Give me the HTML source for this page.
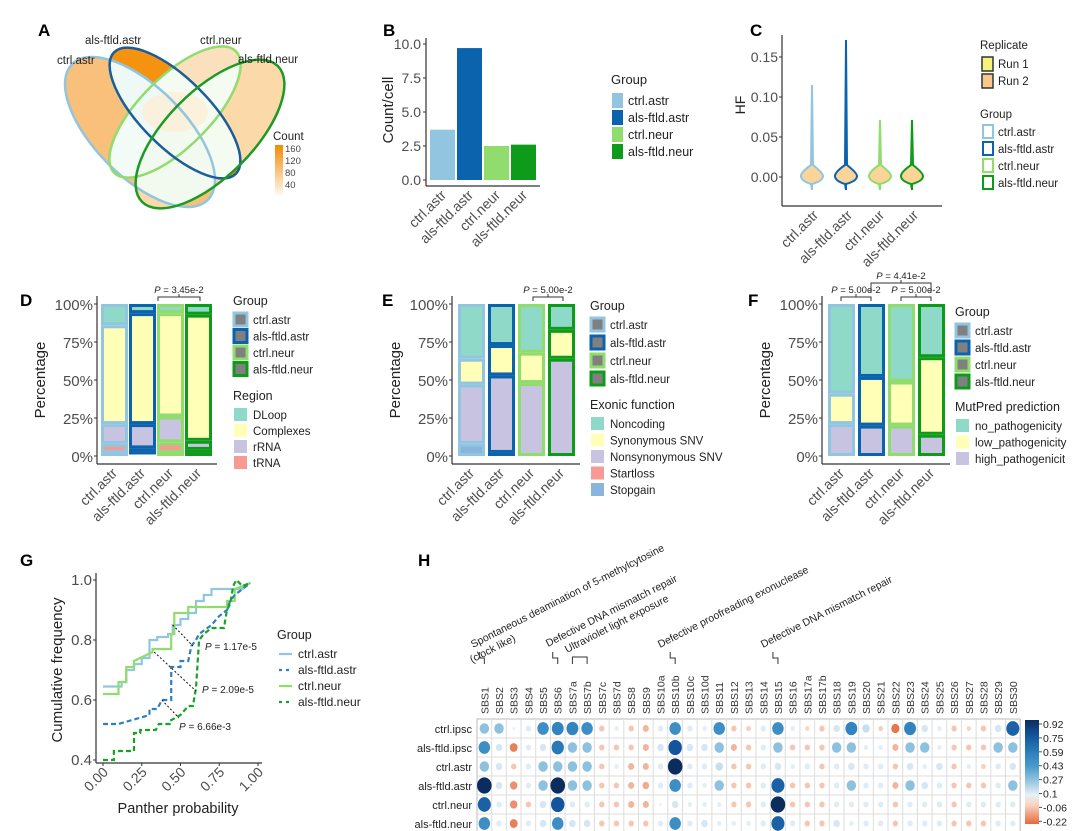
<!DOCTYPE html>
<html><head><meta charset="utf-8"><style>
html,body{margin:0;padding:0;background:#fff}
svg{display:block;font-family:"Liberation Sans",sans-serif}
.t{fill:#4d4d4d;font-size:14px}
.l{fill:#222;font-size:11.5px}
.pl{font-family:"Liberation Sans",sans-serif;font-weight:bold;font-size:17px;fill:#000}
</style></head><body>
<svg id="s" width="1080" height="831" viewBox="0 0 1080 831" xmlns="http://www.w3.org/2000/svg">
<defs>
<linearGradient id="cg" x1="0" y1="0" x2="0" y2="1"><stop offset="0" stop-color="#f48a00"/><stop offset="1" stop-color="#fff8ef"/></linearGradient>
<linearGradient id="hb" x1="0" y1="0" x2="0" y2="1">
<stop offset="0" stop-color="#0b2d5e"/><stop offset="0.15" stop-color="#12559c"/><stop offset="0.3" stop-color="#2a7bba"/><stop offset="0.45" stop-color="#4a9ccc"/><stop offset="0.6" stop-color="#9ecae1"/><stop offset="0.72" stop-color="#e8f0f6"/><stop offset="0.82" stop-color="#f9d3bd"/><stop offset="1" stop-color="#e5693c"/></linearGradient>
<clipPath id="cA"><ellipse cx="140" cy="132" rx="96" ry="45" transform="rotate(45 140 132)"/></clipPath>
<clipPath id="cB"><ellipse cx="175" cy="113" rx="86" ry="34" transform="rotate(45 175 113)"/></clipPath>
<clipPath id="cC"><ellipse cx="175" cy="112" rx="86" ry="35" transform="rotate(-45 175 112)"/></clipPath>
</defs>
<text class="pl" x="38" y="36">A</text>
<ellipse cx="210" cy="134" rx="96" ry="43" transform="rotate(-45 210 134)" fill="#fbd9a8"/>
<ellipse cx="140" cy="132" rx="96" ry="45" transform="rotate(45 140 132)" fill="#f8c07a"/>
<ellipse cx="175" cy="112" rx="86" ry="35" transform="rotate(-45 175 112)" fill="#fbe0bd"/>
<ellipse cx="175" cy="113" rx="86" ry="34" transform="rotate(45 175 113)" fill="#f5920f"/>
<g clip-path="url(#cC)"><ellipse cx="175" cy="113" rx="86" ry="34" transform="rotate(45 175 113)" fill="#f4fbf2"/><ellipse cx="140" cy="132" rx="96" ry="45" transform="rotate(45 140 132)" fill="#f2fbf6"/><ellipse cx="210" cy="134" rx="96" ry="43" transform="rotate(-45 210 134)" fill="#f4fbf0"/></g>
<g clip-path="url(#cB)"><ellipse cx="140" cy="132" rx="96" ry="45" transform="rotate(45 140 132)" fill="#eef9f6"/><ellipse cx="210" cy="134" rx="96" ry="43" transform="rotate(-45 210 134)" fill="#f4fbf0"/></g>
<g clip-path="url(#cA)"><ellipse cx="210" cy="134" rx="96" ry="43" transform="rotate(-45 210 134)" fill="#f2faf0"/></g>
<ellipse cx="175" cy="112" rx="33" ry="20" fill="#fdecd4" opacity="0.7"/>
<ellipse cx="140" cy="132" rx="96" ry="45" transform="rotate(45 140 132)" fill="none" stroke="#91c5e0" stroke-width="2.5"/>
<ellipse cx="175" cy="112" rx="86" ry="35" transform="rotate(-45 175 112)" fill="none" stroke="#90dc6c" stroke-width="2.5"/>
<ellipse cx="175" cy="113" rx="86" ry="34" transform="rotate(45 175 113)" fill="none" stroke="#1a5d9a" stroke-width="2.5"/>
<ellipse cx="210" cy="134" rx="96" ry="43" transform="rotate(-45 210 134)" fill="none" stroke="#1c9a25" stroke-width="2.5"/>
<text class="l" x="57" y="64">ctrl.astr</text><text class="l" x="85" y="44">als-ftld.astr</text>
<text class="l" x="200" y="44">ctrl.neur</text><text class="l" x="238" y="63">als-ftld.neur</text>
<text class="l" x="273" y="140">Count</text>
<rect x="275" y="145" width="8" height="50" fill="url(#cg)"/>
<g style="font-size:9.5px;fill:#444"><text x="285" y="152">160</text><text x="285" y="164">120</text><text x="285" y="176">80</text><text x="285" y="188">40</text></g>
<g id="dyn"></g>
</svg>
<script>
var S=document.getElementById('dyn');
var h='';
var C=['#91c5e0','#0b62ad','#90dc6c','#0f9b1a'],G=['ctrl.astr','als-ftld.astr','ctrl.neur','als-ftld.neur'];
function T(x,y,s,cls,extra){return '<text x="'+x+'" y="'+y+'" class="'+(cls||'t')+'" '+(extra||'')+'>'+s+'</text>';}
function xl(xs,y){var r='';for(var i=0;i<4;i++)r+='<text class="t" text-anchor="end" transform="translate('+(xs[i]+5)+','+y+') rotate(-45)">'+G[i]+'</text>';return r;}
// B
h+=T(383,36,'B','pl');
h+='<line x1="426" y1="38" x2="426" y2="186" stroke="#333" stroke-width="1.2"/><line x1="426" y1="186" x2="540" y2="186" stroke="#333" stroke-width="1.2"/>';
var bt=[['10.0',44],['7.5',78],['5.0',112],['2.5',146],['0.0',180]];
bt.forEach(function(b){h+=T(421,b[1]+5,b[0],'t','text-anchor="end"')+'<line x1="423" x2="426" y1="'+b[1]+'" y2="'+b[1]+'" stroke="#333"/>';});
var bh=[3.7,9.7,2.5,2.6];
for(var i=0;i<4;i++){var bx0=430+i*27,btop=180-bh[i]*13.6;h+='<rect x="'+bx0+'" y="'+btop+'" width="25" height="'+(180-btop)+'" fill="'+C[i]+'"/>';}
h+='<text class="t" style="font-size:15px;fill:#222" transform="translate(393,110) rotate(-90)" text-anchor="middle">Count/cell</text>';
h+=xl([442,469,496,523],196);
h+=T(611,84,'Group','l','style="font-size:13px"');
for(var i=0;i<4;i++){h+='<rect x="612" y="'+(93+i*17)+'" width="11" height="15" fill="'+C[i]+'"/>'+T(628,105+i*17,G[i],'l','style="font-size:12.5px"');}
// C
h+=T(750,36,'C','pl');
h+='<line x1="782" y1="35" x2="782" y2="206" stroke="#333" stroke-width="1.2"/><line x1="782" y1="206" x2="942" y2="206" stroke="#333" stroke-width="1.2"/>';
[['0.15',57],['0.10',97],['0.05',137],['0.00',177]].forEach(function(b){h+=T(778,b[1]+5,b[0],'t','text-anchor="end"')+'<line x1="779" x2="782" y1="'+b[1]+'" y2="'+b[1]+'" stroke="#333"/>';});
h+='<text class="t" style="font-size:14px;fill:#222" transform="translate(745,105) rotate(-90)" text-anchor="middle">HF</text>';
var vx=[812,846,880,912],vt=[85,40,120,120];
for(var i=0;i<4;i++){var x=vx[i];h+='<path d="M'+x+','+vt[i]+' L'+(x+1)+',165 Q'+(x+11)+',173 '+(x+11)+',176 Q'+(x+11)+',181 '+x+',184 L'+x+',190 L'+(x-1)+',184 Q'+(x-11)+',181 '+(x-11)+',176 Q'+(x-11)+',172 '+(x-1)+',165 Z" fill="#fbd49a" stroke="'+C[i]+'" stroke-width="2"/>';}
h+=xl([814,848,880,914],216);
h+=T(980,49,'Replicate','l');
h+='<rect x="982" y="57" width="11" height="14" fill="#f7f27c" stroke="#333" stroke-width="1.5"/><rect x="982" y="74" width="11" height="14" fill="#f9c88d" stroke="#333" stroke-width="1.5"/>';
h+=T(998,68,'Run 1','l')+T(998,85,'Run 2','l')+T(980,118,'Group','l');
for(var i=0;i<4;i++){h+='<rect x="983" y="'+(125+i*17)+'" width="10" height="13" fill="#fff" stroke="'+C[i]+'" stroke-width="2"/>'+T(998,136+i*17,G[i],'l');}
function stack(ax,bx,data,cols){var r='';var y0=456,sc=1.52;
 r+='<line x1="'+ax+'" y1="296" x2="'+ax+'" y2="464" stroke="#333" stroke-width="1.2"/><line x1="'+ax+'" y1="464" x2="'+(bx[3]+32)+'" y2="464" stroke="#333" stroke-width="1.2"/>';
 [['100%',100],['75%',75],['50%',50],['25%',25],['0%',0]].forEach(function(b){var y=y0-b[1]*sc;r+=T(ax-4,y+6,b[0],'t','style="font-size:15px" text-anchor="end"')+'<line x1="'+(ax-3)+'" x2="'+ax+'" y1="'+y+'" y2="'+y+'" stroke="#333"/>';});
 r+='<text class="t" style="font-size:15px;fill:#222" transform="translate('+(ax-52)+',380) rotate(-90)" text-anchor="middle">Percentage</text>';
 for(var i=0;i<4;i++){var segs=data[i];for(var j=0;j<segs.length;j++){var s=segs[j];var ya=y0-s[1]*sc,yb=y0-s[0]*sc;r+='<rect x="'+(bx[i]+1.5)+'" y="'+(ya+1.5)+'" width="24" height="'+Math.max(0,yb-ya-3)+'" fill="'+cols[s[2]]+'" stroke="'+C[i]+'" stroke-width="3"/>';}}
 r+=xl(bx.map(function(v){return v+12;}),474);return r;}
var rc={D:'#8fd9c9',C:'#ffffb8',R:'#c8c3e0',T:'#f79a94',S:'#89b4dc'};
h+=T(20,306,'D','pl');
h+=stack(97,[101,129,157,185],[[[0,2,'R'],[2,8,'T'],[8,21,'R'],[21,86,'C'],[86,100,'D']],[[0,1,'S'],[1,5,'T'],[5,21,'R'],[21,94,'C'],[94,100,'D']],[[0,2,'R'],[2,9,'T'],[9,26,'R'],[26,94,'C'],[94,100,'D']],[[0,2,'R'],[2,4,'T'],[4,10,'R'],[10,93,'C'],[93,100,'D']]],rc);
h+='<path d="M158,301 v-4 h42 v4 M179,297 v-3" fill="none" stroke="#333"/>'+T(179,293,'<tspan font-style="italic">P</tspan> = 3.45e-2','l','style="font-size:9.5px" text-anchor="middle"');
function leg(x,y,title,items,fills,strokes,step){var r=T(x,y,title,'l','style="font-size:12.5px"');for(var i=0;i<items.length;i++){var yy=y+8+i*step;r+='<rect x="'+(x+1)+'" y="'+yy+'" width="13" height="13" fill="'+fills[i]+'" stroke="'+(strokes?strokes[i]:'none')+'" stroke-width="3"/>'+T(x+20,yy+11,items[i],'l');}return r;}
var gray=['#808080','#808080','#808080','#808080'];
h+=leg(233,305,'Group',G,gray,C,16.5)+leg(233,400,'Region',['DLoop','Complexes','rRNA','tRNA'],[rc.D,rc.C,rc.R,rc.T],null,16);
h+=T(382,306,'E','pl');
h+=stack(452,[458,488,518,548],[[[0,8,'S'],[8,47,'R'],[47,64,'C'],[64,100,'D']],[[0,2,'S'],[2,53,'R'],[53,73,'C'],[73,100,'D']],[[0,48,'R'],[48,68,'C'],[68,100,'D']],[[0,64,'R'],[64,83,'C'],[83,100,'D']]],rc);
h+='<path d="M533,301 v-4 h30 v4 M548,297 v-3" fill="none" stroke="#333"/>'+T(548,293,'<tspan font-style="italic">P</tspan> = 5.00e-2','l','style="font-size:9.5px" text-anchor="middle"');
h+=leg(590,310,'Group',G,gray,C,18)+leg(590,409,'Exonic function',['Noncoding','Synonymous SNV','Nonsynonymous SNV','Startloss','Stopgain'],[rc.D,rc.C,rc.R,rc.T,rc.S],null,16.5);
h+=T(748,306,'F','pl');
h+=stack(822,[828,858,888,918],[[[0,21,'R'],[21,41,'C'],[41,100,'D']],[[0,20,'R'],[20,52,'C'],[52,100,'D']],[[0,20,'R'],[20,49,'C'],[49,100,'D']],[[0,14,'R'],[14,65,'C'],[65,100,'D']]],rc);
h+='<path d="M841,301 v-4 h30 v4 M856,297 v-3 M901,301 v-4 h30 v4 M916,297 v-3 M871,293 v-10 h60 v10 M901,283 v-3" fill="none" stroke="#333"/>';
h+=T(856,293,'<tspan font-style="italic">P</tspan> = 5.00e-2','l','style="font-size:9.5px" text-anchor="middle"')+T(916,293,'<tspan font-style="italic">P</tspan> = 5.00e-2','l','style="font-size:9.5px" text-anchor="middle"')+T(901,279,'<tspan font-style="italic">P</tspan> = 4.41e-2','l','style="font-size:9.5px" text-anchor="middle"');
h+=leg(955,316,'Group',G,gray,C,17)+leg(955,411,'MutPred prediction',['no_pathogenicity','low_pathogenicity','high_pathogenicit'],[rc.D,rc.C,rc.R],null,16.5);
// G
h+=T(20,566,'G','pl');
h+='<line x1="96" y1="573" x2="96" y2="763" stroke="#333" stroke-width="1.2"/><line x1="96" y1="763" x2="262" y2="763" stroke="#333" stroke-width="1.2"/>';
function gx(v){return 103+v*155;}function gy(v){return 760-(v-0.4)*300;}
[['1.0',1],['0.8',.8],['0.6',.6],['0.4',.4]].forEach(function(b){var y=gy(b[1]);h+=T(92,y+5,b[0],'t','style="font-size:15px" text-anchor="end"')+'<line x1="93" x2="96" y1="'+y+'" y2="'+y+'" stroke="#333"/>';});
['0.00','0.25','0.50','0.75','1.00'].forEach(function(s,i){var x=gx(i*.25);h+='<line x1="'+x+'" x2="'+x+'" y1="763" y2="766" stroke="#333"/><text class="t" text-anchor="end" transform="translate('+(x+6)+',773) rotate(-45)">'+s+'</text>';});
h+='<text class="t" style="font-size:15px;fill:#222" transform="translate(62,670) rotate(-90)" text-anchor="middle">Cumulative frequency</text>';
h+=T(178,813,'Panther probability','t','style="font-size:14.5px;fill:#222" text-anchor="middle"');
function pl(pts,col,dash){return '<polyline fill="none" stroke="'+col+'" stroke-width="2.2" '+(dash?'stroke-dasharray="5,3"':'')+' points="'+pts.map(function(p){return gx(p[0])+','+gy(p[1]);}).join(' ')+'"/>';}
h+=pl([[0,.645],[.12,.645],[.12,.66],[.15,.66],[.15,.70],[.2,.70],[.2,.72],[.25,.72],[.25,.74],[.3,.74],[.3,.80],[.35,.80],[.35,.81],[.42,.81],[.42,.82],[.45,.82],[.45,.85],[.5,.85],[.5,.87],[.55,.87],[.55,.89],[.6,.89],[.6,.93],[.65,.93],[.65,.95],[.7,.95],[.7,.97],[.9,.97],[.9,.98],[.95,.99]],C[0]);
h+=pl([[0,.62],[.1,.62],[.1,.66],[.15,.66],[.15,.71],[.2,.71],[.2,.73],[.32,.76],[.32,.77],[.44,.77],[.44,.82],[.46,.82],[.46,.89],[.55,.89],[.55,.91],[.8,.91],[.8,.93],[.85,.93],[.85,.97],[.95,.99]],C[2]);
h+=pl([[0,.52],[.1,.52],[.2,.535],[.3,.55],[.3,.57],[.35,.57],[.38,.60],[.44,.60],[.44,.71],[.5,.71],[.5,.73],[.55,.73],[.57,.78],[.6,.80],[.62,.82],[.7,.85],[.75,.88],[.8,.90],[.82,.93],[.85,.95],[.9,.97],[.95,.99]],'#2f7fc0',1);
h+=pl([[0,.40],[.07,.40],[.07,.43],[.2,.43],[.2,.49],[.24,.49],[.24,.50],[.34,.50],[.36,.52],[.43,.52],[.43,.53],[.5,.55],[.55,.58],[.58,.58],[.6,.64],[.62,.80],[.65,.82],[.7,.84],[.78,.84],[.8,.90],[.82,.92],[.84,.98],[.86,1.0],[.9,.98],[.95,.99]],'#17a22a',1);
[[.45,.85,.58,.78],[.33,.76,.6,.63],[.38,.60,.49,.54]].forEach(function(d){h+='<line x1="'+gx(d[0])+'" y1="'+gy(d[1])+'" x2="'+gx(d[2])+'" y2="'+gy(d[3])+'" stroke="#111" stroke-dasharray="2,2"/>';});
h+=T(205,650,'<tspan font-style="italic">P</tspan> = 1.17e-5','l','style="font-size:10px"')+T(202,693,'<tspan font-style="italic">P</tspan> = 2.09e-5','l','style="font-size:10px"')+T(179,730,'<tspan font-style="italic">P</tspan> = 6.66e-3','l','style="font-size:10px"');
h+=T(277,639,'Group','l','style="font-size:12.5px"');
var gs=[[C[0],0],['#2f7fc0',1],[C[2],0],['#17a22a',1]];
for(var i=0;i<4;i++){var y=654+i*16;h+='<line x1="279" x2="292" y1="'+y+'" y2="'+y+'" stroke="'+gs[i][0]+'" stroke-width="2.2" '+(gs[i][1]?'stroke-dasharray="3,4"':'')+'/>'+T(298,y+4,G[i],'l','style="font-size:12px"');}
// H
h+=T(418,566,'H','pl');
var cols=['SBS1','SBS2','SBS3','SBS4','SBS5','SBS6','SBS7a','SBS7b','SBS7c','SBS7d','SBS8','SBS9','SBS10a','SBS10b','SBS10c','SBS10d','SBS11','SBS12','SBS13','SBS14','SBS15','SBS16','SBS17a','SBS17b','SBS18','SBS19','SBS20','SBS21','SBS22','SBS23','SBS24','SBS25','SBS26','SBS27','SBS28','SBS29','SBS30'];
var rows=['ctrl.ipsc','als-ftld.ipsc','ctrl.astr','als-ftld.astr','ctrl.neur','als-ftld.neur'];
var V=[
[.3,.3,0,.05,.5,.55,.55,.5,-.05,.02,-.05,-.08,.05,.5,.05,.02,.5,-.05,-.03,.05,.5,.02,-.02,-.05,.1,.55,.15,-.03,-.2,.55,.1,.02,-.05,-.02,-.05,.1,.7],
[.5,.1,-.18,.05,.1,.6,.3,.3,-.05,-.05,-.05,-.08,.1,.75,.1,.1,.3,-.08,-.05,.05,.3,-.05,-.05,-.05,.3,.3,.02,.02,-.08,.3,.3,.02,-.05,-.05,-.05,.3,.3],
[.3,.1,-.05,.05,.3,.3,.3,.3,-.05,.02,-.08,-.08,.05,.92,.05,.05,.15,-.05,-.05,.05,.1,.02,.05,-.05,.05,.1,.05,.05,-.05,.1,.02,.1,-.05,.02,-.03,.05,.1],
[.92,.1,-.15,.05,.3,.92,.3,.3,-.05,-.05,-.08,-.1,.05,.5,.05,.02,.3,-.05,-.05,.05,.7,-.05,-.05,-.05,.05,.3,.05,.05,-.08,.3,.1,.05,-.05,-.05,-.05,.05,.3],
[.7,.05,-.15,-.05,.1,.75,.05,.05,-.05,-.05,-.08,-.08,0,.1,.02,.02,.02,-.05,-.05,.05,.92,-.05,-.05,-.05,.05,.05,.05,.05,-.05,.05,.05,.05,-.05,.05,.05,.05,.05],
[.5,.05,-.18,.05,.1,.5,.1,.1,-.05,-.05,-.05,-.05,.05,.5,.05,.1,.02,.02,.02,.05,.7,.05,-.05,-.05,.1,.02,.05,.05,-.05,.05,.05,.05,-.05,-.05,-.05,.05,.05]];
var x0=477,cw=14.68,y0=719,rh=19;
function col(v){if(v<0){var t=Math.min(1,-v/.22);return 'rgb('+Math.round(250-(250-229)*t)+','+Math.round(225-(225-105)*t)+','+Math.round(210-(210-60)*t)+')';}
var st=[[0,[232,240,246]],[.1,[214,231,243]],[.27,[158,202,225]],[.43,[74,156,204]],[.59,[42,123,186]],[.75,[18,85,156]],[.92,[11,45,94]]];
for(var i=1;i<st.length;i++){if(v<=st[i][0]){var a=st[i-1],b=st[i],t=(v-a[0])/(b[0]-a[0]);return 'rgb('+[0,1,2].map(function(k){return Math.round(a[1][k]+(b[1][k]-a[1][k])*t);}).join(',')+')';}}return 'rgb(11,45,94)';}
h+='<rect x="'+x0+'" y="'+y0+'" width="'+(cw*37)+'" height="'+(rh*6)+'" fill="#fff" stroke="#bbb"/>';
for(var j=1;j<37;j++)h+='<line x1="'+(x0+j*cw)+'" x2="'+(x0+j*cw)+'" y1="'+y0+'" y2="'+(y0+rh*6)+'" stroke="#ddd"/>';
for(var i=1;i<6;i++)h+='<line x1="'+x0+'" x2="'+(x0+cw*37)+'" y1="'+(y0+i*rh)+'" y2="'+(y0+i*rh)+'" stroke="#ddd"/>';
for(var i=0;i<6;i++){h+=T(472,y0+i*rh+14,rows[i],'l','style="font-size:11px" text-anchor="end"');
 for(var j=0;j<37;j++){var v=V[i][j],r=1.3+6*Math.sqrt(Math.abs(v)/.92);h+='<ellipse cx="'+(x0+j*cw+cw/2)+'" cy="'+(y0+i*rh+rh/2)+'" rx="'+r+'" ry="'+(r*1.12)+'" fill="'+col(v)+'"/>';}}
for(var j=0;j<37;j++)h+='<text class="l" style="font-size:10.5px;fill:#333" transform="translate('+(x0+j*cw+cw/2+4)+',714) rotate(-90)">'+cols[j]+'</text>';
h+='<rect x="1025" y="720" width="14" height="104" fill="url(#hb)"/>';
['0.92','0.75','0.59','0.43','0.27','0.1','-0.06','-0.22'].forEach(function(s,i){var y=724+i*13.9;h+='<line x1="1039" x2="1042" y1="'+y+'" y2="'+y+'" stroke="#555"/>'+T(1043,y+4,s,'l','style="font-size:10.5px"');});
function ann(x,y,s){return '<text class="l" style="font-size:10.5px" transform="translate('+x+','+y+') rotate(-27)">'+s+'</text>';}
h+=ann(473,648,'Spontaneous deamination of 5-methylcytosine')+ann(472,663,'(clock like)')+ann(548,647,'Defective DNA mismatch repair')+ann(567,653,'Ultraviolet light exposure')+ann(660,648,'Defective proofreading exonuclease')+ann(763,648,'Defective DNA mismatch repair');
function br(x){return '<path d="M'+(x-5)+',652 v6 h5 v6" fill="none" stroke="#333"/>';}
h+=br(x0+cw/2)+br(x0+5*cw+cw/2)+br(x0+13*cw+cw/2)+br(x0+20*cw+cw/2);
h+='<path d="M'+(x0+6.5*cw)+',664 v-7 h'+cw+' v7" fill="none" stroke="#333"/>';
S.innerHTML=h;
</script>
</body></html>
